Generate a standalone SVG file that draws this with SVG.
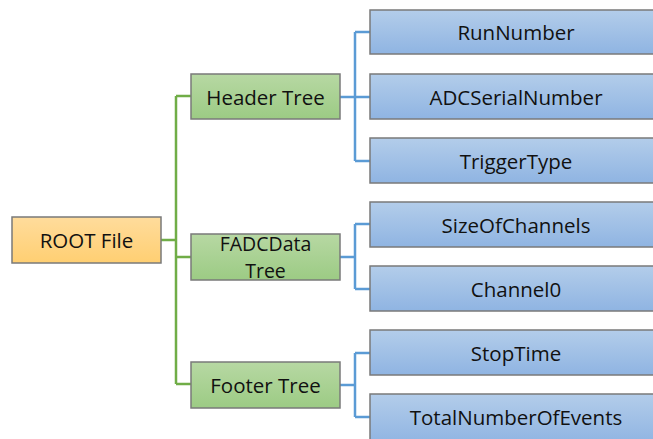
<svg xmlns="http://www.w3.org/2000/svg" width="653" height="439" viewBox="0 0 653 439">
<defs>
<linearGradient id="gO" x1="0" y1="0" x2="0" y2="1"><stop offset="0" stop-color="#ffdc9c"/><stop offset="1" stop-color="#ffcf72"/></linearGradient>
<linearGradient id="gG" x1="0" y1="0" x2="0" y2="1"><stop offset="0" stop-color="#b7d8a3"/><stop offset="1" stop-color="#9ccb84"/></linearGradient>
<linearGradient id="gB" x1="0" y1="0" x2="0" y2="1"><stop offset="0" stop-color="#b3cdea"/><stop offset="1" stop-color="#8fb4e2"/></linearGradient>
<style>
rect{stroke:#7a7a7a;stroke-width:1.5}
.o{fill:url(#gO)}.g{fill:url(#gG)}.b{fill:url(#gB)}
text{font-family:"Open Sans","Noto Sans",sans-serif;font-size:20.5px;fill:#111;text-anchor:middle;dominant-baseline:central}
.two{font-size:19.5px}
.cg{fill:none;stroke:#70ad47;stroke-width:2.5}
.cb{fill:none;stroke:#5b9bd5;stroke-width:2.5}
</style>
</defs>
<g id="connectors">
<path class="cg" d="M161 240H176M176 96V384M176 96H191M176 257H191M176 384H191"/>
<path class="cb" d="M340 97H355M355 32V161M355 32H370M355 97H370M355 161H370"/>
<path class="cb" d="M340 257H355M355 224V289M355 224H370M355 289H370"/>
<path class="cb" d="M340 385H355M355 353V417M355 353H370M355 417H370"/>
</g>
<g id="root"><rect class="o" x="12" y="217" width="149" height="46"/><text x="86.5" y="240">ROOT File</text></g>
<g id="header"><rect class="g" x="191" y="74" width="149" height="45"/><text x="265.5" y="96.5">Header Tree</text></g>
<g id="fadc"><rect class="g" x="191" y="234" width="149" height="46"/><text class="two" x="265.5" y="243">FADCData</text><text class="two" x="265.5" y="270">Tree</text></g>
<g id="footer"><rect class="g" x="191" y="362" width="149" height="46"/><text x="265.5" y="385">Footer Tree</text></g>
<g id="runnumber"><rect class="b" x="370" y="10" width="300" height="44"/><text x="516" y="32">RunNumber</text></g>
<g id="adcserial"><rect class="b" x="370" y="74" width="300" height="45"/><text x="516" y="96.5">ADCSerialNumber</text></g>
<g id="triggertype"><rect class="b" x="370" y="138" width="300" height="45"/><text x="516" y="160.5">TriggerType</text></g>
<g id="sizeofchannels"><rect class="b" x="370" y="202" width="300" height="45"/><text x="516" y="224.5">SizeOfChannels</text></g>
<g id="channel0"><rect class="b" x="370" y="266" width="300" height="45"/><text x="516" y="288.5">Channel0</text></g>
<g id="stoptime"><rect class="b" x="370" y="330" width="300" height="45"/><text x="516" y="352.5">StopTime</text></g>
<g id="totalevents"><rect class="b" x="370" y="394" width="300" height="50"/><text x="516" y="417">TotalNumberOfEvents</text></g>
</svg>
